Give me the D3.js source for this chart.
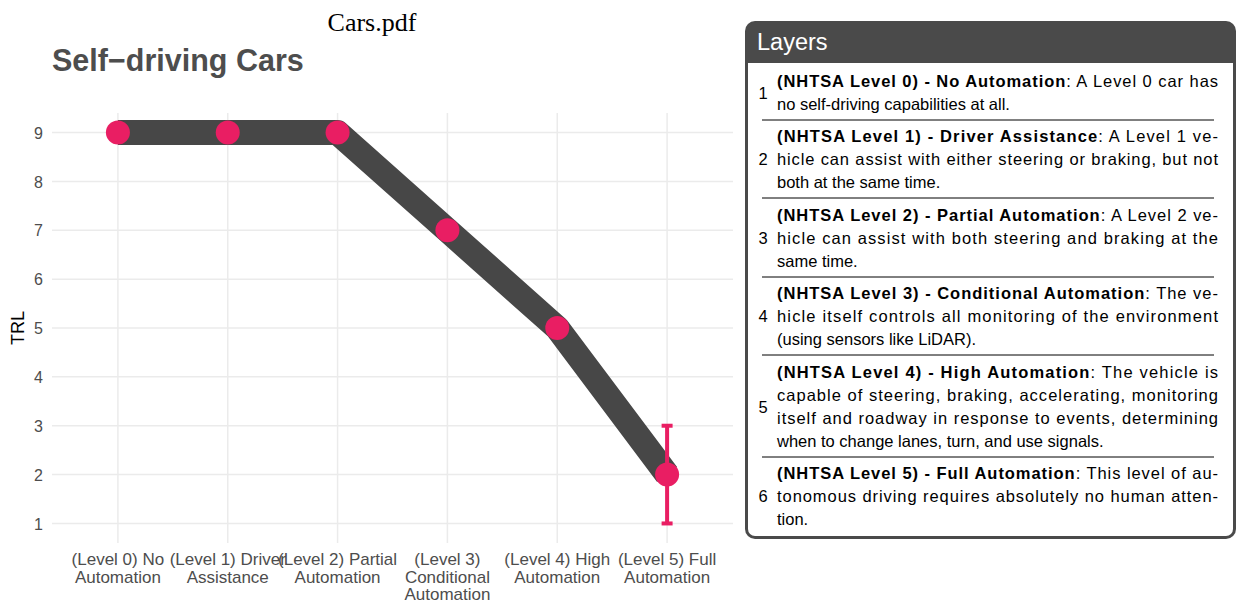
<!DOCTYPE html>
<html><head><meta charset="utf-8">
<script src="https://cdn.jsdelivr.net/npm/d3@7"></script>
<style>body{margin:0;background:#fff}svg{display:block}</style>
</head><body>
<script>
const categories = ["(Level 0) No Automation","(Level 1) Driver Assistance","(Level 2) Partial Automation","(Level 3) Conditional Automation","(Level 4) High Automation","(Level 5) Full Automation"];
const categoryLines = [["(Level 0) No","Automation"],["(Level 1) Driver","Assistance"],["(Level 2) Partial","Automation"],["(Level 3)","Conditional","Automation"],["(Level 4) High","Automation"],["(Level 5) Full","Automation"]];
const trl = [9, 9, 9, 7, 5, 2];
const errLow = [null, null, null, null, null, 1];
const errHigh = [null, null, null, null, null, 3];
const yTicks = [1,2,3,4,5,6,7,8,9];
const layerNums = ["1","2","3","4","5","6"];
const layerBold = ["(NHTSA Level 0) - No Automation","(NHTSA Level 1) - Driver Assistance","(NHTSA Level 2) - Partial Automation","(NHTSA Level 3) - Conditional Automation","(NHTSA Level 4) - High Automation","(NHTSA Level 5) - Full Automation"];
const layerLines = [
 [": A Level 0 car has","no self-driving capabilities at all."],
 [": A Level 1 ve-","hicle can assist with either steering or braking, but not","both at the same time."],
 [": A Level 2 ve-","hicle can assist with both steering and braking at the","same time."],
 [": The ve-","hicle itself controls all monitoring of the environment","(using sensors like LiDAR)."],
 [": The vehicle is","capable of steering, braking, accelerating, monitoring","itself and roadway in response to events, determining","when to change lanes, turn, and use signals."],
 [": This level of au-","tonomous driving requires absolutely no human atten-","tion."]
];

const W = 1238, H = 603;
const svg = d3.select("body").append("svg").attr("width", W).attr("height", H);
const font = "'Liberation Sans', Arial, Helvetica, sans-serif";
const grey = "#4d4d4d";

svg.append("text").attr("x", 372).attr("y", 31).attr("text-anchor","middle")
  .attr("font-family","'Liberation Serif', 'Times New Roman', serif").attr("font-size", 26).attr("fill","#000").text("Cars.pdf");
svg.append("text").attr("x", 52).attr("y", 71).attr("font-family", font).attr("font-weight","bold")
  .attr("font-size", 30.5).attr("fill", grey).text("Self\u2212driving Cars");

const x = d3.scalePoint().domain(categories).range([52, 733]).padding(0.6);
const y = d3.scaleLinear().domain([0.6, 9.4]).range([543, 113]);

const g = svg.append("g");
// grid
g.selectAll(".hg").data(yTicks).join("line")
  .attr("x1", 52).attr("x2", 733).attr("y1", d=>y(d)).attr("y2", d=>y(d))
  .attr("stroke","#ebebeb").attr("stroke-width",1.5);
g.selectAll(".vg").data(categories).join("line")
  .attr("x1", d=>x(d)).attr("x2", d=>x(d)).attr("y1", 113).attr("y2", 543)
  .attr("stroke","#ebebeb").attr("stroke-width",1.5);

// axes
const yAxis = d3.axisLeft(y).tickValues(yTicks).tickSize(0).tickPadding(0);
const ya = svg.append("g").attr("transform","translate(43,0)").call(yAxis);
ya.select(".domain").remove();
ya.selectAll("text").attr("font-family", font).attr("font-size", 16).attr("fill", grey).attr("dy","0.35em");

const xAxis = d3.axisBottom(x).tickSize(0).tickFormat("");
const xa = svg.append("g").attr("transform","translate(0,543)").call(xAxis);
xa.select(".domain").remove();
categories.forEach((c,i)=>{
  const t = svg.append("text").attr("x", x(c)).attr("y", 565).attr("text-anchor","middle")
    .attr("font-family", font).attr("font-size", 17).attr("fill", grey);
  categoryLines[i].forEach((ln,j)=>{
    t.append("tspan").attr("x", x(c)).attr("dy", j===0?0:17.5).text(ln);
  });
});
svg.append("text").attr("transform","translate(24,328) rotate(-90)").attr("text-anchor","middle")
  .attr("font-family", font).attr("font-size", 18).attr("fill","#000").text("TRL");

// line
const data = categories.map((c,i)=>({c, v:trl[i], lo:errLow[i], hi:errHigh[i]}));
g.append("path").datum(data)
  .attr("d", d3.line().x(d=>x(d.c)).y(d=>y(d.v)))
  .attr("fill","none").attr("stroke","#474747").attr("stroke-width",25)
  .attr("stroke-linejoin","round").attr("stroke-linecap","butt");

const pink = "#E91E63";
const eb = data.filter(d=>d.lo!=null);
g.selectAll(".eb").data(eb).join("line")
  .attr("x1", d=>x(d.c)).attr("x2", d=>x(d.c)).attr("y1", d=>y(d.lo)).attr("y2", d=>y(d.hi))
  .attr("stroke", pink).attr("stroke-width",4);
g.selectAll(".ebt").data(eb.flatMap(d=>[[d.c,d.lo],[d.c,d.hi]])).join("line")
  .attr("x1", d=>x(d[0])-5.5).attr("x2", d=>x(d[0])+5.5).attr("y1", d=>y(d[1])).attr("y2", d=>y(d[1]))
  .attr("stroke", pink).attr("stroke-width",4);
g.selectAll(".pt").data(data).join("circle")
  .attr("cx", d=>x(d.c)).attr("cy", d=>y(d.v)).attr("r", 12).attr("fill", pink);

// legend box
const L = {x:745, y:21, w:491, h:518};
svg.append("rect").attr("x",L.x).attr("y",L.y).attr("width",L.w).attr("height",L.h)
  .attr("rx",10).attr("fill","#4a4a4a");
svg.append("rect").attr("x",L.x+3).attr("y",L.y+42).attr("width",L.w-6).attr("height",L.h-45)
  .attr("rx",7).attr("fill","#fff");
svg.append("rect").attr("x",L.x+3).attr("y",L.y+42).attr("width",L.w-6).attr("height",10).attr("fill","#fff");
svg.append("text").attr("x",757).attr("y",50).attr("font-family",font).attr("font-size",23.5)
  .attr("fill","#fff").text("Layers");

const lineH = 23;
const rowFirst = [81, 136, 215, 293, 372, 473];
const textX = 777, textR = 1218;
layerLines.forEach((lines,i)=>{
  const y0 = rowFirst[i];
  const n = lines.length;
  svg.append("text").attr("x",763).attr("y", y0 + (n-1)*lineH/2 + 6).attr("text-anchor","middle")
    .attr("font-family",font).attr("font-size",16.5).attr("fill","#000").text(layerNums[i]);
  lines.forEach((ln,j)=>{
    const t = svg.append("text").attr("x",textX).attr("y", y0 + j*lineH + 6)
      .attr("font-family",font).attr("font-size",16.5).attr("fill","#000");
    if(j===0){
      t.append("tspan").attr("font-weight","bold").text(layerBold[i]);
      t.append("tspan").text(ln);
    } else t.text(ln);
    if(j < n-1){
      t.attr("textLength", textR-textX).attr("lengthAdjust","spacing");
    }
  });
  if(i < layerLines.length-1){
    const sy = y0 + (n-1)*lineH + 16;
    svg.append("line").attr("x1",762).attr("x2",1214).attr("y1",sy).attr("y2",sy)
      .attr("stroke","#000").attr("stroke-width",1);
  }
});
</script>
</body></html>
